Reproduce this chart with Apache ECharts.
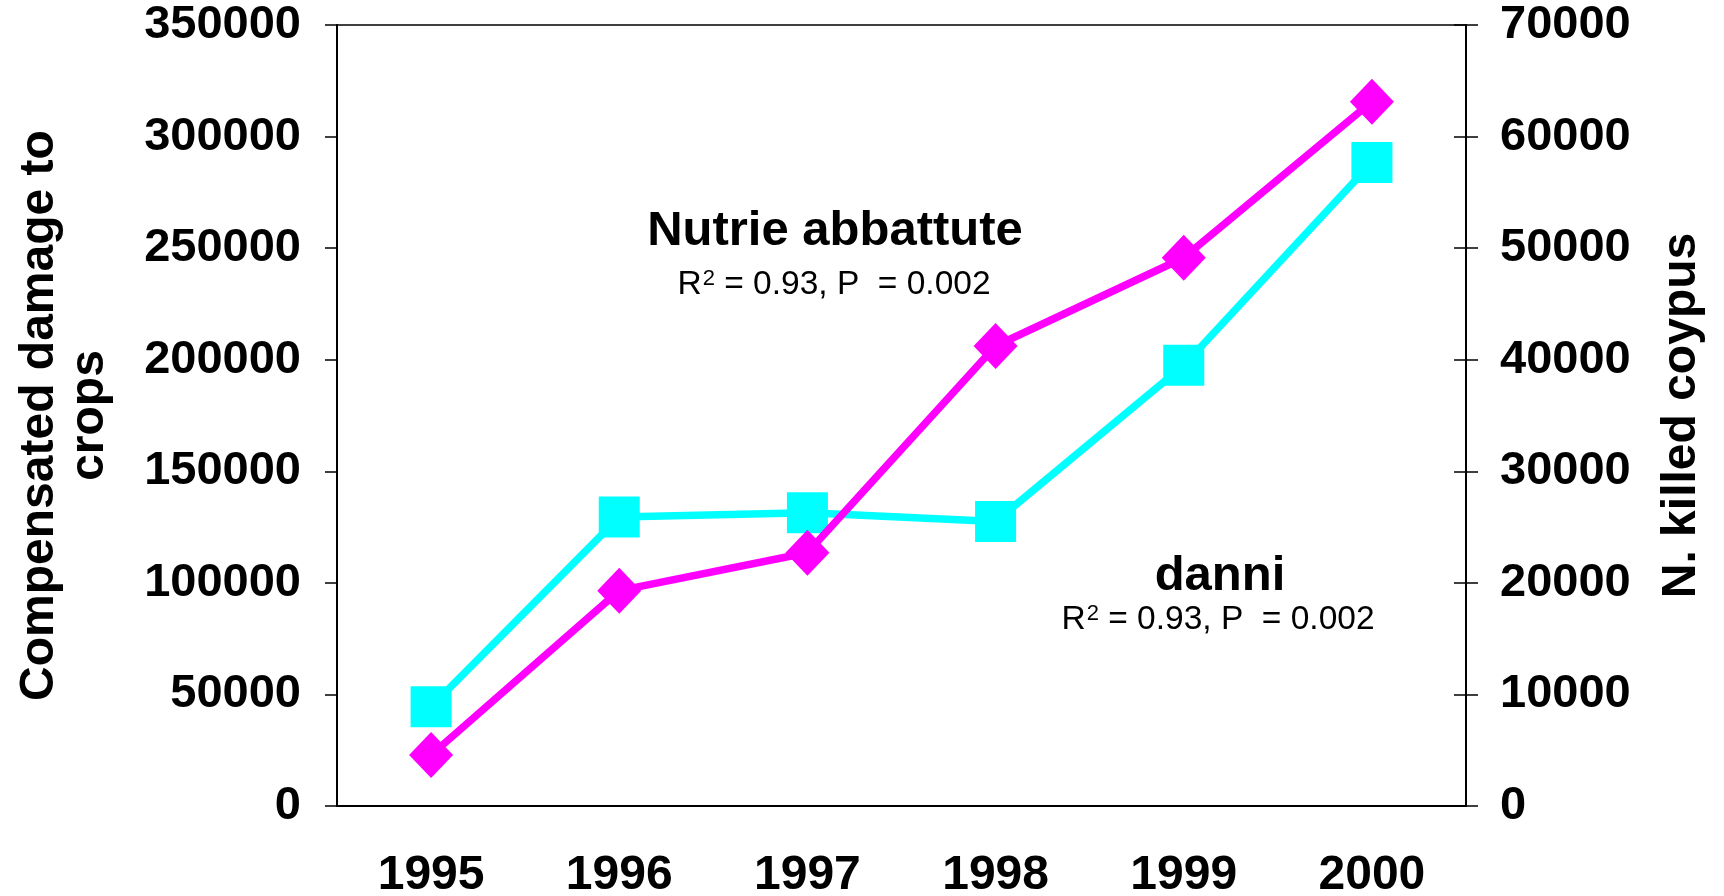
<!DOCTYPE html>
<html>
<head>
<meta charset="utf-8">
<script src="https://cdn.jsdelivr.net/npm/echarts@6/dist/echarts.min.js"></script>
<style>
  html, body { margin: 0; padding: 0; background: #fff; }
  #main { width: 1724px; height: 896px; }
</style>
</head>
<body>
<div id="main"></div>
<script>
// dati
var years = ['1995', '1996', '1997', '1998', '1999', '2000'];
var damage = [44500, 129500, 131400, 127500, 197500, 288400];   // asse sinistro
var killed = [4570, 19300, 22700, 41230, 49140, 63130];         // asse destro
var damageTicks = { min: 0, max: 350000, interval: 50000 };
var killedTicks = { min: 0, max: 70000, interval: 10000 };

var FONT = '"Liberation Sans", Arial, sans-serif';

var myChart = echarts.init(document.getElementById('main'));

var r2Rich = {
    r: { fontFamily: FONT, fontSize: 33.5, color: '#000' },
    s: { fontFamily: FONT, fontSize: 22, color: '#000', verticalAlign: 'top', padding: [0, 0, 0, 1] }
};

function plain(v) { return String(v); }

option = {
    animation: false,
    backgroundColor: '#fff',
    grid: {
        left: 337,
        right: 258,
        top: 25,
        bottom: 90,
        outerBoundsMode: 'none',
        show: true,
        borderColor: '#000',
        borderWidth: 1.5
    },
    xAxis: {
        type: 'category',
        data: years,
        boundaryGap: true,
        axisLine: { lineStyle: { color: '#000', width: 2 } },
        axisTick: { length: 12, lineStyle: { color: '#000', width: 1.5 } },
        axisLabel: {
            color: '#000', fontFamily: FONT, fontWeight: 'bold', fontSize: 48, margin: 46
        },
        splitLine: { show: false }
    },
    yAxis: [
        {
            type: 'value',
            position: 'left',
            min: damageTicks.min, max: damageTicks.max, interval: damageTicks.interval,
            name: 'Compensated damage to\ncrops',
            nameLocation: 'middle',
            nameRotate: 90,
            nameGap: 222,
            nameTextStyle: {
                color: '#000', fontFamily: FONT, fontWeight: 'bold', fontSize: 48, lineHeight: 50
            },
            axisLine: { show: true, lineStyle: { color: '#000', width: 2 } },
            axisTick: { show: true, length: 12, lineStyle: { color: '#000', width: 1.5 } },
            axisLabel: {
                color: '#000', fontFamily: FONT, fontWeight: 'bold', fontSize: 47, margin: 36,
                padding: [6, 0, 0, 0], formatter: plain
            },
            splitLine: { show: false }
        },
        {
            type: 'value',
            position: 'right',
            min: killedTicks.min, max: killedTicks.max, interval: killedTicks.interval,
            name: 'N. killed coypus',
            nameLocation: 'middle',
            nameRotate: 90,
            nameGap: 192,
            nameTextStyle: {
                color: '#000', fontFamily: FONT, fontWeight: 'bold', fontSize: 48
            },
            axisLine: { show: true, lineStyle: { color: '#000', width: 2 } },
            axisTick: { show: true, length: 12, lineStyle: { color: '#000', width: 1.5 } },
            axisLabel: {
                color: '#000', fontFamily: FONT, fontWeight: 'bold', fontSize: 47, margin: 34,
                padding: [6, 0, 0, 0], formatter: plain
            },
            splitLine: { show: false }
        },
        {
            // tacche interne dell'asse destro (tacche a croce)
            type: 'value',
            position: 'right',
            min: killedTicks.min, max: killedTicks.max, interval: killedTicks.interval,
            axisLine: { show: false },
            axisTick: { show: true, inside: true, length: 12, lineStyle: { color: '#000', width: 1.5 } },
            axisLabel: { show: false },
            splitLine: { show: false }
        }
    ],
    series: [
        {
            name: 'danni',
            type: 'line',
            yAxisIndex: 0,
            data: damage,
            symbol: 'rect',
            symbolSize: 41,
            lineStyle: { color: '#00FFFF', width: 7.5 },
            itemStyle: { color: '#00FFFF' },
            z: 2
        },
        {
            name: 'Nutrie abbattute',
            type: 'line',
            yAxisIndex: 1,
            data: killed,
            symbol: 'diamond',
            symbolSize: [44, 46],
            lineStyle: { color: '#FF00FF', width: 7.5 },
            itemStyle: { color: '#FF00FF' },
            z: 3
        }
    ],
    graphic: [
        {
            type: 'text', x: 835, y: 231, z: 10,
            style: {
                text: 'Nutrie abbattute', fill: '#000',
                font: 'bold 49px ' + FONT, textAlign: 'center', textVerticalAlign: 'middle'
            }
        },
        {
            type: 'text', x: 834, y: 285, z: 10,
            style: {
                text: '{r|R}{s|2}{r| = 0.93, P  = 0.002}', rich: r2Rich,
                textAlign: 'center', textVerticalAlign: 'middle'
            }
        },
        {
            type: 'text', x: 1220, y: 576, z: 10,
            style: {
                text: 'danni', fill: '#000',
                font: 'bold 49px ' + FONT, textAlign: 'center', textVerticalAlign: 'middle'
            }
        },
        {
            type: 'text', x: 1218, y: 620, z: 10,
            style: {
                text: '{r|R}{s|2}{r| = 0.93, P  = 0.002}', rich: r2Rich,
                textAlign: 'center', textVerticalAlign: 'middle'
            }
        }
    ]
};

myChart.setOption(option);
</script>
</body>
</html>
